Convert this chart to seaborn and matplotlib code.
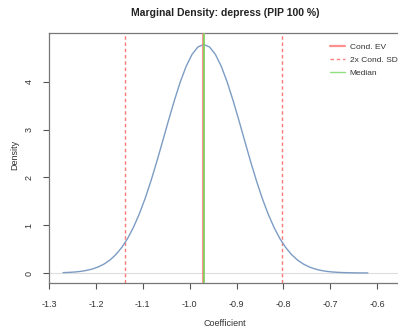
import matplotlib
matplotlib.use("Agg")
import matplotlib.pyplot as plt
import seaborn as sns
import pandas as pd
from matplotlib.lines import Line2D

# Data
coef = [-1.27, -1.2575, -1.245, -1.2325, -1.22, -1.2075, -1.195, -1.1825, -1.17,
        -1.1575, -1.145, -1.1325, -1.12, -1.1075, -1.095, -1.0825, -1.07, -1.0575,
        -1.045, -1.0325, -1.02, -1.0075, -0.995, -0.9825, -0.97, -0.9575, -0.945,
        -0.9325, -0.92, -0.9075, -0.895, -0.8825, -0.87, -0.8575, -0.845, -0.8325,
        -0.82, -0.8075, -0.795, -0.7825, -0.77, -0.7575, -0.745, -0.7325, -0.72,
        -0.7075, -0.695, -0.6825, -0.67, -0.645, -0.62]
density = [0.008, 0.013, 0.021, 0.034, 0.054, 0.084, 0.127, 0.188, 0.271,
           0.384, 0.532, 0.719, 0.953, 1.232, 1.558, 1.928, 2.333, 2.761,
           3.194, 3.612, 3.996, 4.322, 4.571, 4.727, 4.78, 4.727, 4.571,
           4.322, 3.996, 3.612, 3.194, 2.761, 2.333, 1.928, 1.558, 1.232,
           0.953, 0.719, 0.532, 0.384, 0.271, 0.188, 0.127, 0.084, 0.054,
           0.034, 0.021, 0.013, 0.008, 0.003, 0.001]
cond_ev = -0.972
cond_sd_lines = [-1.138, -0.803]
median = -0.969
x_ticks = [-1.3, -1.2, -1.1, -1.0, -0.9, -0.8, -0.7, -0.6]
x_tick_labels = ["-1.3", "-1.2", "-1.1", "-1.0", "-0.9", "-0.8", "-0.7", "-0.6"]
y_ticks = [0, 1, 2, 3, 4]
legend_labels = ["Cond. EV", "2x Cond. SD", "Median"]
title = "Marginal Density: depress (PIP 100 %)"

sns.set_style("white")
plt.rcParams["font.family"] = ["Liberation Sans", "DejaVu Sans"]

df = pd.DataFrame({"Coefficient": coef, "Density": density})

W, H = 398, 335
fig = plt.figure(figsize=(W / 100, H / 100), dpi=100)
ax_l, ax_r, ax_t, ax_b = 49, 410, 33, 283
ax = fig.add_axes([ax_l / W, 1 - ax_b / H, (ax_r - ax_l) / W, (ax_b - ax_t) / H])

ax.axhline(0, color="#dddddd", lw=0.8, zorder=1)
sns.lineplot(data=df, x="Coefficient", y="Density", ax=ax, color="#7c9cc4", lw=1.0, zorder=3)
red = "#ff7878"
for v in cond_sd_lines:
    ax.axvline(v, color=red, lw=1.0, ls=(0, (2.5, 2)), zorder=2)
ax.axvline(cond_ev, color=red, lw=1.4, alpha=0.8, zorder=4)
ax.axvline(median, color="#7fcf5f", lw=1.4, alpha=0.9, zorder=5)

ax.set_xlim(-1.3, -0.53)
ax.set_ylim(-0.209, 5.02)
ax.set_xticks(x_ticks)
ax.set_xticklabels(x_tick_labels)
ax.set_yticks(y_ticks)
ax.set_yticklabels([str(v) for v in y_ticks], rotation=90, va="center")
ax.tick_params(axis="both", direction="out", length=4, width=0.8, color="#555555",
               labelsize=6.5, labelcolor="#333333", pad=7, bottom=True, left=True)
ax.tick_params(axis="x", pad=8)
for s in ax.spines.values():
    s.set_color("#777777")
    s.set_linewidth(0.9)
ax.set_xlabel("")
ax.set_ylabel("")

fig.text(225 / W, 1 - 13 / H, title, ha="center", va="center", fontsize=7.5,
         fontweight="bold", color="#222222")
fig.text(225 / W, 1 - 323 / H, "Coefficient", ha="center", va="center",
         fontsize=6.5, color="#333333")
fig.text(15 / W, 1 - 155 / H, "Density", ha="center", va="center", rotation=90,
         fontsize=6.5, color="#333333")

handles = [Line2D([0], [0], color="#ff9090", lw=1.6),
           Line2D([0], [0], color="#ff8080", lw=1.0, ls=(0, (2.5, 2))),
           Line2D([0], [0], color="#90e080", lw=1.0)]
ax.legend(handles, legend_labels, loc="upper left",
          bbox_to_anchor=(327 / W, 1 - 40 / H), bbox_transform=fig.transFigure,
          frameon=False, fontsize=6.0, handlelength=1.7, handletextpad=0.6,
          labelspacing=0.6, borderaxespad=0, labelcolor="#333333")

fig.savefig("out.png", dpi=100)
